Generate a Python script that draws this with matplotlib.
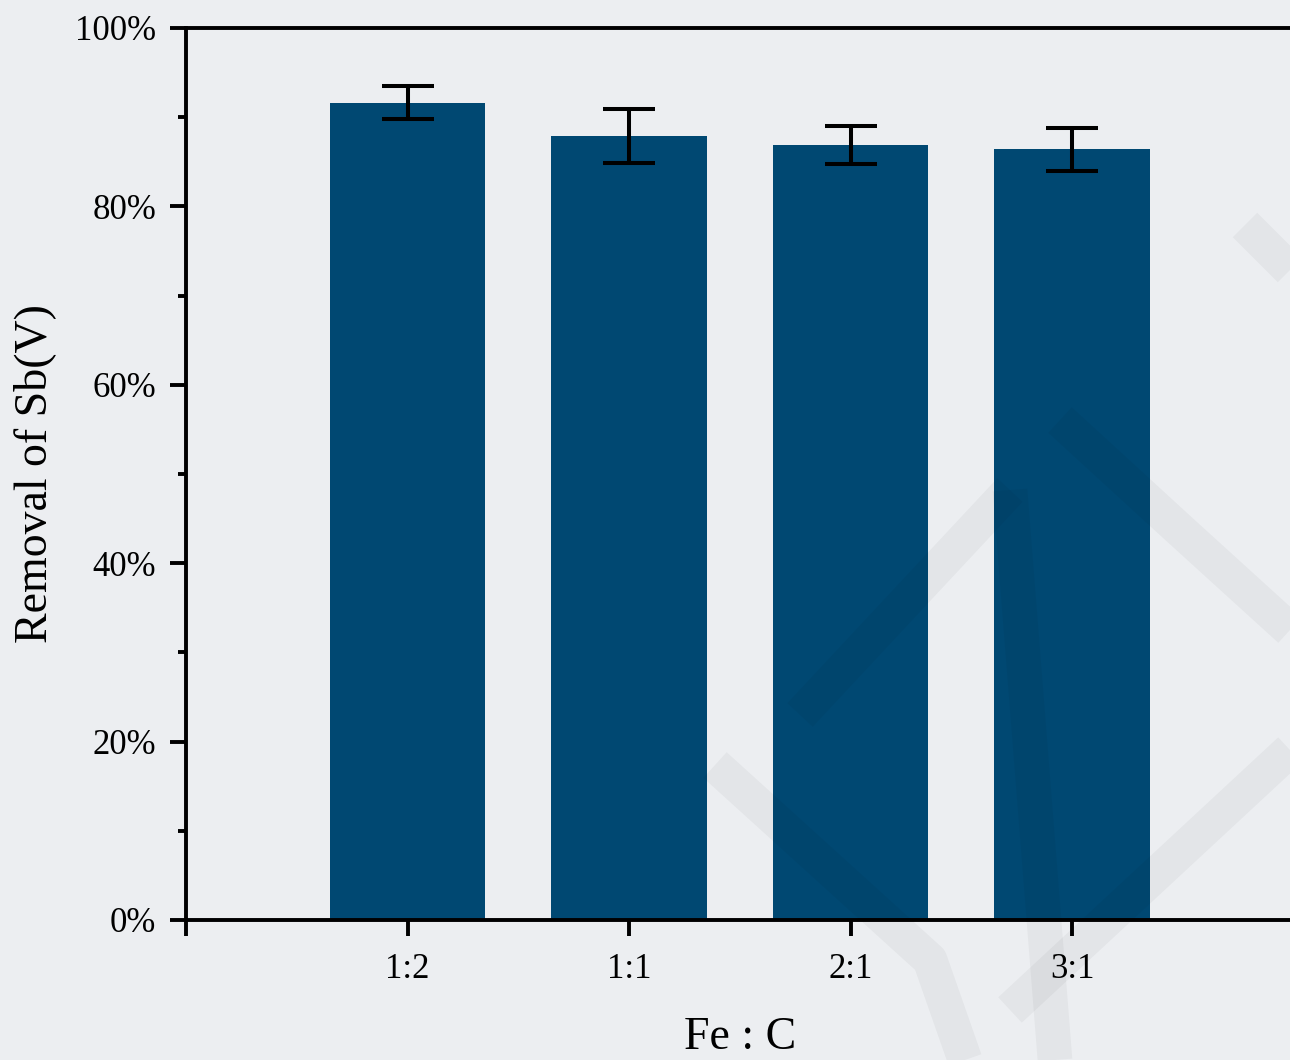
import numpy as np
import matplotlib
matplotlib.use('Agg')
import matplotlib.pyplot as plt
from matplotlib.lines import Line2D
from matplotlib.ticker import MultipleLocator, FuncFormatter

# data
ratios = ['1:2', '1:1', '2:1', '3:1']
removal = [91.6, 87.9, 86.9, 86.4]      # %
removal_err = [1.85, 3.0, 2.1, 2.4]     # %

plt.rcParams['font.family'] = ['Liberation Serif', 'DejaVu Serif']

bar_color = '#004872'
bg = '#eceef1'

fig = plt.figure(figsize=(12.9, 10.6), dpi=100, facecolor=bg)

# faint watermark strokes in the background (figure pixel coords, y from top)
marks = [
    [(800, 715), (1010, 490)],
    [(1010, 490), (1055, 1060)],
    [(1060, 420), (1180, 530), (1290, 630)],
    [(715, 765), (930, 960), (965, 1060)],
    [(1010, 1010), (1290, 750)],
    [(1245, 225), (1290, 270)],
]
for m in marks:
    xs = [p[0] / 1290 for p in m]
    ys = [1 - p[1] / 1060 for p in m]
    fig.add_artist(Line2D(xs, ys, transform=fig.transFigure, color='black',
                          alpha=0.035, lw=25, solid_capstyle='butt', zorder=5))

ax = fig.add_axes([186 / 1290, 140 / 1060, 1107.5 / 1290, 892 / 1060])
ax.set_facecolor('none')

x = np.arange(1, len(ratios) + 1)
ax.bar(x, removal, width=0.7, color=bar_color, zorder=2)
ax.errorbar(x, removal, yerr=removal_err, fmt='none', ecolor='black',
            elinewidth=2.9, capsize=18.5, capthick=2.9, zorder=3)

ax.set_xlim(0, 5)
ax.set_ylim(0, 100)
ax.set_xticks([0, 1, 2, 3, 4])
ax.set_xticklabels([''] + ratios)
ax.yaxis.set_major_locator(MultipleLocator(20))
ax.yaxis.set_minor_locator(MultipleLocator(10))
ax.yaxis.set_major_formatter(FuncFormatter(lambda v, p: '{:.0f}%'.format(v)))

for s in ['left', 'bottom', 'top']:
    ax.spines[s].set_linewidth(2.8)
ax.spines['right'].set_visible(False)

ax.tick_params(axis='both', which='major', direction='out', length=11.5,
               width=2.8, labelsize=25)
ax.tick_params(axis='y', which='minor', direction='out', length=6, width=2.8)
ax.tick_params(axis='y', which='major', pad=10)
ax.tick_params(axis='x', which='major', pad=12)

ax.set_xlabel('Fe : C', fontsize=33, labelpad=22)
ax.set_ylabel('Removal of Sb(V)', fontsize=33, labelpad=14)

fig.savefig('out.png', dpi=100, facecolor=bg)
